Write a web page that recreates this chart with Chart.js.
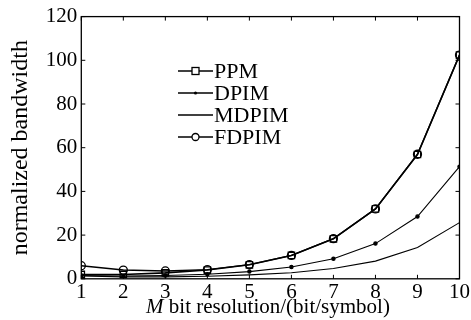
<!DOCTYPE html>
<html>
<head>
<meta charset="utf-8">
<script src="https://cdn.jsdelivr.net/npm/chart.js@4.4.0/dist/chart.umd.min.js"></script>
<style>
  html, body { margin: 0; padding: 0; background: #fff; }
  #wrap { width: 471px; height: 320px; }
</style>
</head>
<body>
<div id="wrap"><canvas id="chart"></canvas></div>
<script>
// bit resolution M
const bits = [1, 2, 3, 4, 5, 6, 7, 8, 9, 10];
// normalized bandwidth
const ppm   = [2.0, 2.0, 2.7, 4.0, 6.4, 10.7, 18.3, 32.0, 56.9, 102.4];
const dpim  = [1.5, 1.3, 1.5, 2.1, 3.3, 5.4, 9.2, 16.1, 28.5, 51.3];
const mdpim = [1.3, 0.9, 0.9, 1.2, 1.8, 2.8, 4.7, 8.1, 14.3, 25.7];
const fdpim = [6.0, 4.0, 3.6, 4.2, 6.5, 10.7, 18.4, 32.0, 57.0, 102.4];
const yTicks = [0, 20, 40, 60, 80, 100, 120];

const seriesNames = ['PPM', 'DPIM', 'MDPIM', 'FDPIM'];
const FONT = '"Liberation Serif", "DejaVu Serif", serif';

function pts(vals) {
    return bits.map((b, i) => ({ x: b, y: vals[i] }));
}

const styles = [
    { pointStyle: 'rect', pointRadius: 4.5, width: 1.6 },
    { pointStyle: 'circle', pointRadius: 1.6, fill: '#000', width: 1.1 },
    { pointStyle: false, pointRadius: 0, width: 1.1 },
    { pointStyle: 'circle', pointRadius: 4, width: 1.4 }
];

const datasets = [ppm, dpim, mdpim, fdpim].map((vals, i) => ({
    label: seriesNames[i],
    data: pts(vals),
    borderColor: '#000',
    borderWidth: styles[i].width,
    pointStyle: styles[i].pointStyle,
    pointRadius: styles[i].pointRadius,
    pointBorderColor: '#000',
    pointBackgroundColor: styles[i].fill || 'rgba(255,255,255,0)',
    pointBorderWidth: 1.3,
    tension: 0
}));

// box, inward ticks, legend and x title
const decor = {
    id: 'decor',
    afterDraw(chart) {
        const ctx = chart.ctx;
        const a = chart.chartArea;
        const xs = chart.scales.x, ys = chart.scales.y;
        ctx.save();
        ctx.strokeStyle = '#000';
        ctx.lineWidth = 1.3;
        ctx.strokeRect(a.left, a.top, a.right - a.left, a.bottom - a.top);
        ctx.lineWidth = 1;
        ctx.beginPath();
        bits.forEach(b => {
            const px = xs.getPixelForValue(b);
            ctx.moveTo(px, a.bottom); ctx.lineTo(px, a.bottom - 4);
            ctx.moveTo(px, a.top); ctx.lineTo(px, a.top + 4);
        });
        yTicks.forEach(v => {
            const py = ys.getPixelForValue(v);
            ctx.moveTo(a.left, py); ctx.lineTo(a.left + 4, py);
            ctx.moveTo(a.right, py); ctx.lineTo(a.right - 4, py);
        });
        ctx.stroke();

        // legend
        const lx0 = 178, lx1 = 213, ly0 = 71, dy = 22;
        ctx.font = '22px ' + FONT;
        ctx.fillStyle = '#000';
        ctx.textBaseline = 'middle';
        seriesNames.forEach((name, i) => {
            const y = ly0 + i * dy;
            ctx.lineWidth = 1.3;
            ctx.beginPath();
            ctx.moveTo(lx0, y); ctx.lineTo(lx1, y);
            ctx.stroke();
            const mx = (lx0 + lx1) / 2;
            if (i === 0) {
                ctx.fillStyle = '#fff';
                ctx.fillRect(mx - 3.5, y - 3.5, 7, 7);
                ctx.strokeRect(mx - 3.5, y - 3.5, 7, 7);
                ctx.fillStyle = '#000';
            } else if (i === 1) {
                ctx.beginPath(); ctx.arc(mx, y, 1.6, 0, Math.PI * 2); ctx.fill();
            } else if (i === 3) {
                ctx.fillStyle = '#fff';
                ctx.beginPath(); ctx.arc(mx, y, 3.5, 0, Math.PI * 2); ctx.fill(); ctx.stroke();
                ctx.fillStyle = '#000';
            }
            ctx.fillText(name, lx1 + 1, y + 1);
        });

        // x title with italic M
        const ty = 313;
        ctx.textBaseline = 'alphabetic';
        ctx.font = 'italic 21px ' + FONT;
        const wM = ctx.measureText('M').width;
        ctx.font = '21px ' + FONT;
        const rest = ' bit resolution/(bit/symbol)';
        const wR = ctx.measureText(rest).width;
        const cx = 268;
        const start = cx - (wM + wR) / 2;
        ctx.font = 'italic 21px ' + FONT;
        ctx.fillText('M', start, ty);
        ctx.font = '21px ' + FONT;
        ctx.fillText(rest, start + wM, ty);
        ctx.restore();
    }
};

new Chart(document.getElementById('chart'), {
    type: 'line',
    data: { datasets: datasets },
    options: {
        responsive: true,
        maintainAspectRatio: false,
        animation: false,
        layout: { padding: { top: 15, right: 11, bottom: 14, left: 6 } },
        plugins: {
            legend: { display: false },
            tooltip: { enabled: false }
        },
        scales: {
            x: {
                type: 'linear',
                min: 1, max: 10,
                grid: { display: false, drawTicks: false },
                border: { display: false },
                ticks: {
                    stepSize: 1,
                    color: '#000',
                    padding: 1,
                    maxRotation: 0,
                    font: { family: FONT, size: 21 }
                }
            },
            y: {
                min: 0, max: 120,
                grid: { display: false, drawTicks: false },
                border: { display: false },
                ticks: {
                    stepSize: 20,
                    color: '#000',
                    padding: 4,
                    font: { family: FONT, size: 21 }
                },
                title: {
                    display: true,
                    text: 'normalized bandwidth',
                    color: '#000',
                    padding: { top: 0, bottom: 7 },
                    font: { family: FONT, size: 24 }
                }
            }
        }
    },
    plugins: [decor]
});
</script>
</body>
</html>
